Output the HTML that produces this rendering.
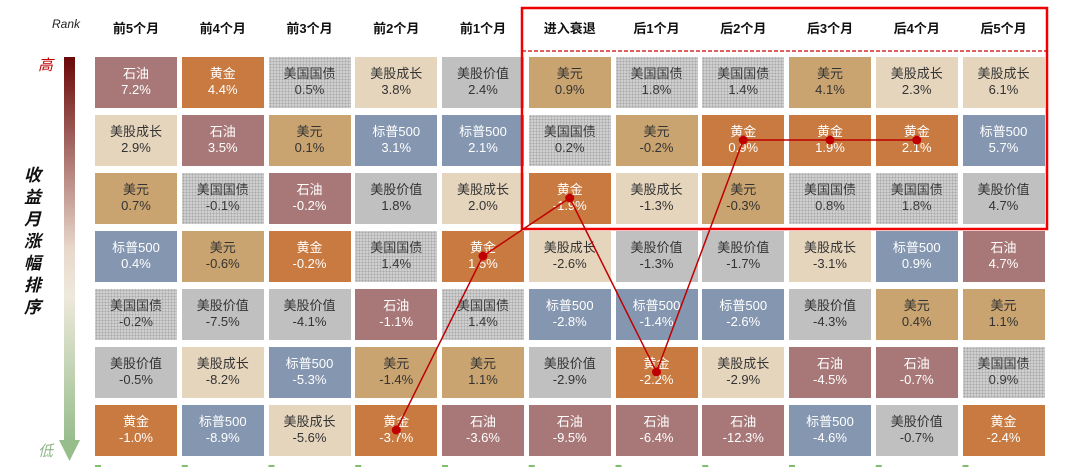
<!DOCTYPE html>
<html><head><meta charset="utf-8">
<style>
body{margin:0;width:1080px;height:472px;background:#fff;overflow:hidden;font-family:"Liberation Sans","Noto Sans CJK SC",sans-serif;}
#wrap{position:relative;width:1080px;height:472px;}
.hdr{position:absolute;top:18px;width:86px;text-align:center;font-weight:bold;font-size:13px;color:#111;}
.cell{position:absolute;width:82px;height:51px;box-sizing:border-box;text-align:center;font-size:13px;line-height:16px;padding-top:9px;}
.bond{background-color:#cfcfcf;background-image:radial-gradient(#a9a9a9 0.8px,transparent 1px);background-size:3px 3px;}
</style></head><body>
<div id="wrap">
<div style="position:absolute;left:52px;top:17px;font-style:italic;font-size:12px;color:#222;">Rank</div>
<div style="position:absolute;left:38px;top:54px;font-style:italic;font-size:15px;color:#c00000;">高</div>
<div style="position:absolute;left:38px;top:440px;font-style:italic;font-size:15px;color:#8fb58a;">低</div>
<div style="position:absolute;left:24px;top:165px;width:20px;font-weight:bold;font-style:italic;font-size:17px;line-height:22px;color:#111;">收<br>益<br>月<br>涨<br>幅<br>排<br>序</div>
<svg style="position:absolute;left:0;top:0" width="1080" height="472">
<defs><linearGradient id="g" x1="0" y1="0" x2="0" y2="1">
<stop offset="0" stop-color="#6a0808"/><stop offset="0.5" stop-color="#e8d8cc"/><stop offset="0.62" stop-color="#eee9dc"/><stop offset="1" stop-color="#97bd8c"/></linearGradient></defs>
<rect x="64" y="57" width="11" height="385" fill="url(#g)"/>
<polygon points="59,440 80,440 69.5,461" fill="#97bd8c"/>
<rect x="522" y="8" width="525" height="221" fill="none" stroke="#f00000" stroke-width="2.5"/>
<line x1="522" y1="51" x2="1047" y2="51" stroke="#d00000" stroke-width="1.2" stroke-dasharray="4,2"/>
<g id="marks"></g>
<g id="goldline"></g>
</svg>
<div id="grid"></div>
</div>
<script>
const periods=["前5个月","前4个月","前3个月","前2个月","前1个月","进入衰退","后1个月","后2个月","后3个月","后4个月","后5个月"];
const col0=["石油","美股成长","美元","标普500","美国国债","美股价值","黄金"];
const val0=[7.2,2.9,0.7,0.4,-0.2,-0.5,-1.0];
const col1=["黄金","石油","美国国债","美元","美股价值","美股成长","标普500"];
const val1=[4.4,3.5,-0.1,-0.6,-7.5,-8.2,-8.9];
const col2=["美国国债","美元","石油","黄金","美股价值","标普500","美股成长"];
const val2=[0.5,0.1,-0.2,-0.2,-4.1,-5.3,-5.6];
const col3=["美股成长","标普500","美股价值","美国国债","石油","美元","黄金"];
const val3=[3.8,3.1,1.8,1.4,-1.1,-1.4,-3.7];
const col4=["美股价值","标普500","美股成长","黄金","美国国债","美元","石油"];
const val4=[2.4,2.1,2.0,1.5,1.4,1.1,-3.6];
const col5=["美元","美国国债","黄金","美股成长","标普500","美股价值","石油"];
const val5=[0.9,0.2,-1.9,-2.6,-2.8,-2.9,-9.5];
const col6=["美国国债","美元","美股成长","美股价值","标普500","黄金","石油"];
const val6=[1.8,-0.2,-1.3,-1.3,-1.4,-2.2,-6.4];
const col7=["美国国债","黄金","美元","美股价值","标普500","美股成长","石油"];
const val7=[1.4,0.9,-0.3,-1.7,-2.6,-2.9,-12.3];
const col8=["美元","黄金","美国国债","美股成长","美股价值","石油","标普500"];
const val8=[4.1,1.9,0.8,-3.1,-4.3,-4.5,-4.6];
const col9=["美股成长","黄金","美国国债","标普500","美元","石油","美股价值"];
const val9=[2.3,2.1,1.8,0.9,0.4,-0.7,-0.7];
const col10=["美股成长","标普500","美股价值","石油","美元","美国国债","黄金"];
const val10=[6.1,5.7,4.7,4.7,1.1,0.9,-2.4];
const names=[col0,col1,col2,col3,col4,col5,col6,col7,col8,col9,col10];
const vals=[val0,val1,val2,val3,val4,val5,val6,val7,val8,val9,val10];
const lineStart=3;
const lineEnd=9;

const colors={"石油":["#a87878","#fff"],"黄金":["#c87a40","#fff"],"美国国债":["bond","#3a3a3a"],"美股成长":["#e6d5bd","#333"],"美股价值":["#c0c0c0","#333"],"美元":["#c9a470","#333"],"标普500":["#8496b0","#fff"]};
const slugs={"石油":"oil","黄金":"gold","美国国债":"treasury","美股成长":"growth","美股价值":"value","美元":"usd","标普500":"sp500"};
function xs(c){return 95+c*86.75;}
function ys(r){return 57+r*58;}
const grid=document.getElementById('grid');
const wrap=document.getElementById('wrap');
periods.forEach((p,c)=>{
  const h=document.createElement('div');h.className='hdr';
  
  
  h.style.left=(xs(c)-2)+'px';h.textContent=p;wrap.appendChild(h);
  const m=document.createElementNS('http://www.w3.org/2000/svg','rect');
  
  
  m.setAttribute('x',xs(c));m.setAttribute('y',465);m.setAttribute('width',6);m.setAttribute('height',2);m.setAttribute('fill','#7fbf6f');
  document.getElementById('marks').appendChild(m);
  names[c].forEach((n,r)=>{
    const d=document.createElement('div');d.className='cell';
    
    
    const cl=colors[n];
    if(cl[0]==='bond')d.classList.add('bond');else d.style.background=cl[0];
    d.style.color=cl[1];d.style.left=xs(c)+'px';d.style.top=ys(r)+'px';
    const v=vals[c][r];
    d.innerHTML=n+'<br>'+v.toFixed(1)+'%';
    grid.appendChild(d);
  });
});
const pts=[];
for(let c=lineStart;c<=lineEnd;c++){const r=names[c].indexOf("黄金");pts.push([xs(c)+41,ys(r)+25]);}
const g=document.getElementById('goldline');
const pl=document.createElementNS('http://www.w3.org/2000/svg','polyline');


pl.setAttribute('points',pts.map(p=>p.join(',')).join(' '));pl.setAttribute('fill','none');pl.setAttribute('stroke','#c00000');pl.setAttribute('stroke-width','1.5');
g.appendChild(pl);
pts.forEach(p=>{const ci=document.createElementNS('http://www.w3.org/2000/svg','circle');


ci.setAttribute('cx',p[0]);ci.setAttribute('cy',p[1]);ci.setAttribute('r',4.5);ci.setAttribute('fill','#c00000');g.appendChild(ci);});
const svg=document.querySelector('svg');svg.style.zIndex=2;svg.style.pointerEvents='none';
</script>
</body></html>
